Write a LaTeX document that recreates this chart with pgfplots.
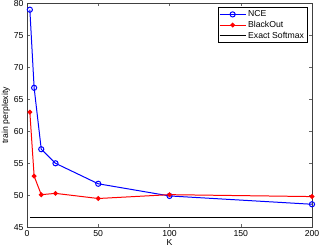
\documentclass[border=0pt]{standalone}
\usepackage{fontspec}
\setmainfont{Liberation Sans}
\usepackage{pgfplots}
\pgfplotsset{compat=1.18}
\begin{document}
\begin{tikzpicture}
\begin{axis}[
  name=ax,
  scale only axis,
  width=285bp, height=224bp,
  xmin=0, xmax=200, ymin=45, ymax=80,
  xtick={0,50,100,150,200},
  ytick={45,50,55,60,65,70,75,80},
  tick align=inside,
  major tick length=3bp,
  tick style={color=black!60, line width=0.5pt},
  axis line style={black!75, line width=0.6pt},
  /pgf/number format/assume math mode=true,
  font=\fontsize{8.7}{10}\selectfont,
  ticklabel style={font=\fontsize{8.7}{10}\selectfont},
  xlabel={K},
  ylabel={train perplexity},
  xlabel style={at={(axis description cs:0.5,-0.07)},anchor=center},
  ylabel style={at={(axis description cs:-0.074,0.5)},anchor=center},
  legend style={at={(0.9835,0.982)},anchor=north east, draw=black, line width=0.6pt,
    font=\fontsize{8.7}{10}\selectfont, inner sep=1pt, row sep=-1pt,
    legend cell align=left},
  legend image code/.code={\draw[mark repeat=2,mark phase=2,#1] plot coordinates {(0bp,0bp) (13bp,0bp) (26bp,0bp)};},
  legend image post style={line width=1pt},
]
\addplot[blue, line width=1pt, mark=o, mark size=2.6pt, mark options={fill=white, line width=1pt}]
  coordinates {(2,79.0) (5,66.8) (10,57.2) (20,55.0) (50,51.8) (100,49.9) (200,48.6)};
\addlegendentry{NCE}
\addplot[red, line width=1pt, mark=*, mark size=1.9pt]
  coordinates {(2,63.0) (5,53.0) (10,50.1) (20,50.3) (50,49.5) (100,50.1) (200,49.8)};
\addlegendentry{BlackOut}
\addplot[black, line width=1.1pt]
  coordinates {(2,46.5) (200,46.5)};
\addlegendentry{Exact Softmax}
\end{axis}
\path (ax.south west) ++(-27bp,-21.7bp) coordinate (bbA);
\path (ax.north east) ++(7bp,3.3bp) coordinate (bbB);
\pgfresetboundingbox
\path[use as bounding box] (bbA) rectangle (bbB);
\end{tikzpicture}
\end{document}
